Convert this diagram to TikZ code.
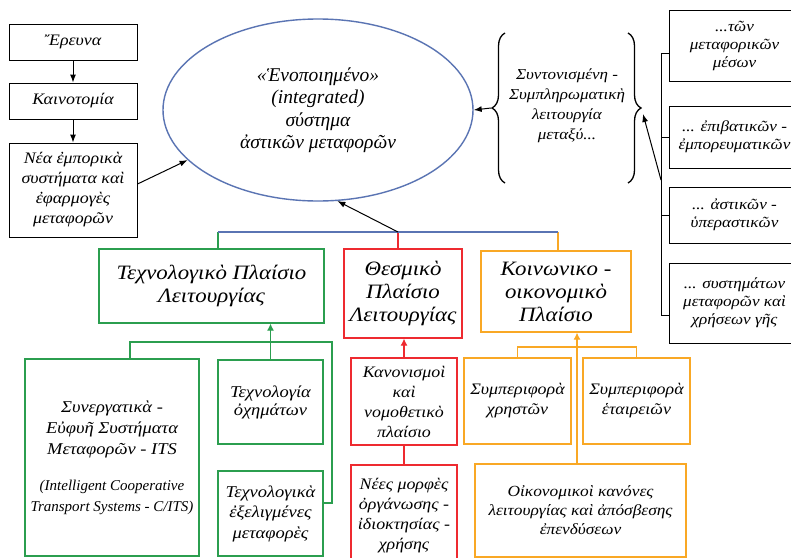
\documentclass[tikz,border=0pt]{standalone}
\usepackage{fontspec}
\setmainfont{Liberation Serif}
\newfontfamily\wf[FakeStretch=1.12]{Liberation Serif}
\usetikzlibrary{shapes.geometric,arrows.meta,decorations.pathreplacing}
\definecolor{cgreen}{HTML}{2B9E4F}
\definecolor{cred}{HTML}{EE2A30}
\definecolor{corange}{HTML}{F9A825}
\definecolor{cblue}{HTML}{5A74B3}
\begin{document}
\begin{tikzpicture}[x=1pt,y=-1pt,
  bx/.style={draw, line width=1pt, align=center, inner sep=2pt, font=\wf\itshape\fontsize{16}{20}\selectfont},
  gbx/.style={bx, draw=cgreen, line width=1.2pt},
  rbx/.style={bx, draw=cred, line width=1.2pt},
  obx/.style={bx, draw=corange, line width=1.2pt},
  arr/.style={-{Latex[length=8pt,width=6pt]}, line width=1pt},
  carr/.style={-{Latex[length=7pt,width=7pt]}, line width=1.2pt},
  sz/.style 2 args={minimum width=#1pt, minimum height=#2pt}]
\useasboundingbox (0,0) rectangle (791,557);
\clip (0,0) rectangle (791,557);
\fill[white] (0,0) rectangle (791,557);

% left column
\node[bx, sz={128}{36}] (er) at (73,42) {Ἔρευνα};
\node[bx, sz={128}{36}] (kai) at (73,101) {Καινοτομία};
\node[bx, sz={128}{94}] (nea) at (73,190) {Νέα ἐμπορικὰ\\συστήματα καὶ\\ἐφαρμογὲς\\μεταφορῶν};

% ellipse
\node[ellipse, draw=cblue, line width=1.4pt, sz={310}{182}, align=center,
  font=\itshape\fontsize{19.5}{22.5}\selectfont] (ell) at (318,110)
  {\raisebox{0pt}[0pt][0pt]{}«Ἑνοποιημένο»\\(integrated)\\σύστημα\\ἀστικῶν μεταφορῶν};

% brace text
\node[align=center, font=\wf\itshape\fontsize{15.2}{20}\selectfont] (br) at (567,106)
  {Συντονισμένη -\\Συμπληρωματικὴ\\λειτουργία\\μεταξύ...};
\draw[line width=1.3pt, decorate, decoration={brace, amplitude=13pt}] (505,183) -- (505,33);
\draw[line width=1.3pt, decorate, decoration={brace, amplitude=13pt}] (628,33) -- (628,183);
\coordinate (lbt) at (491,108);
\coordinate (rbt) at (643,114);

% right boxes
\node[bx, sz={131}{71}, font=\wf\itshape\fontsize{15.3}{18}\selectfont] (r1) at (734.5,45.5) {...τῶν\\μεταφορικῶν\\μέσων};
\node[bx, sz={131}{62}, font=\wf\itshape\fontsize{15.3}{18}\selectfont] (r2) at (734.5,137) {... ἐπιβατικῶν -\\ἐμπορευματικῶν};
\node[bx, sz={131}{56}, font=\wf\itshape\fontsize{15.3}{18}\selectfont] (r3) at (734.5,215) {... ἀστικῶν -\\ὑπεραστικῶν};
\node[bx, sz={131}{80}, font=\wf\itshape\fontsize{15.3}{18}\selectfont] (r4) at (734.5,303) {... συστημάτων\\μεταφορῶν καὶ\\χρήσεων γῆς};
\coordinate (s1) at (661,53);
\coordinate (s2) at (661,137);
\coordinate (s3) at (661,215);
\coordinate (s4) at (661,315);
\coordinate (sa) at (661,180);
\draw[line width=1pt] (s1) -- (s4);
\draw[line width=1pt] (s1) -- (s1 -| r1.west);
\draw[line width=1pt] (s2) -- (s2 -| r2.west);
\draw[line width=1pt] (s3) -- (s3 -| r3.west);
\draw[line width=1pt] (s4) -- (s4 -| r4.west);
\draw[arr] (sa) -- (rbt);
\draw[arr] (lbt) -- (ell.east);

% left arrows
\draw[arr] (er) -- (kai);
\draw[arr] (kai) -- (nea);
\draw[arr] (nea.east) ++(0,-6) -- (ell.201);

% middle frames
\node[gbx, sz={225}{74}, font=\wf\itshape\fontsize{20.4}{23}\selectfont] (tech) at (211.5,286) {Τεχνολογικὸ Πλαίσιο\\Λειτουργίας};
\node[rbx, sz={118}{89}, font=\wf\itshape\fontsize{20.4}{23}\selectfont] (thes) at (403,293.5) {Θεσμικὸ\\Πλαίσιο\\Λειτουργίας};
\node[obx, sz={150}{81}, font=\wf\itshape\fontsize{20.4}{23}\selectfont] (koin) at (556,291.5) {Κοινωνικο -\\οικονομικὸ\\Πλαίσιο};
\coordinate (bg) at (218,232);
\coordinate (bred) at (398,232);
\coordinate (bo) at (558,232);
\draw[cgreen, line width=1.2pt] (bg) -- (bg |- tech.north);
\draw[cred, line width=1.2pt] (bred) -- (bred |- thes.north);
\draw[corange, line width=1.2pt] (bo) -- (bo |- koin.north);
\draw[cblue, line width=1.2pt] (bg) -- (bo);
\draw[arr] (bred) -- (ell.282);

% green group
\node[gbx, sz={174}{197}, font=\wf\itshape\fontsize{16.5}{21}\selectfont] (its) at (112,457.5) {Συνεργατικὰ -\\Εὐφυῆ Συστήματα\\Μεταφορῶν - ITS\\[15pt]{\normalfont\itshape\fontsize{15}{20}\selectfont (Intelligent Cooperative}\\{\normalfont\itshape\fontsize{15}{20}\selectfont Transport Systems - C/ITS)}};
\node[gbx, sz={105}{84}, font=\wf\itshape\fontsize{16.5}{18}\selectfont] (tox) at (270.5,402) {Τεχνολογία\\ὀχημάτων};
\node[gbx, sz={105}{85}, font=\wf\itshape\fontsize{16.5}{20.5}\selectfont] (tev) at (270.5,513.5) {Τεχνολογικὰ\\ἐξελιγμένες\\μεταφορὲς};
\coordinate (g1) at (130,342);
\coordinate (g2) at (332,342);
\coordinate (g3) at (332,503);
\draw[cgreen, line width=1.2pt] (its.north -| g1) -- (g1) -- (g2) -- (g3) -- (g3 -| tev.east);
\draw[cgreen, carr] (tox.north) -- (tox.north |- tech.south);

% red group
\node[rbx, sz={106}{87}] (kan) at (404,401.5) {Κανονισμοὶ\\καὶ\\νομοθετικὸ\\πλαίσιο};
\node[rbx, sz={106}{102}] (nm) at (404,516) {Νέες μορφὲς\\ὀργάνωσης -\\ἰδιοκτησίας -\\χρήσης};
\draw[cred, carr] (kan.north) -- (kan.north |- thes.south);
\draw[cred, line width=1.2pt] (kan.south) -- (nm.north);

% orange group
\node[obx, sz={107}{86}] (sx) at (517.5,401) {Συμπεριφορὰ\\χρηστῶν};
\node[obx, sz={107}{86}] (se) at (636.5,401) {Συμπεριφορὰ\\ἑταιρειῶν};
\node[obx, sz={211}{93}, font=\wf\itshape\fontsize{15.5}{19}\selectfont] (oik) at (580.5,510.5) {Οἰκονομικοὶ κανόνες\\λειτουργίας καὶ ἀπόσβεσης\\ἐπενδύσεων};
\coordinate (o1) at (577,347);
\draw[corange, line width=1.2pt] (sx.north) |- (o1) -| (se.north);
\draw[corange, carr] (oik.north -| o1) -- (o1 |- koin.south);
\end{tikzpicture}
\end{document}
